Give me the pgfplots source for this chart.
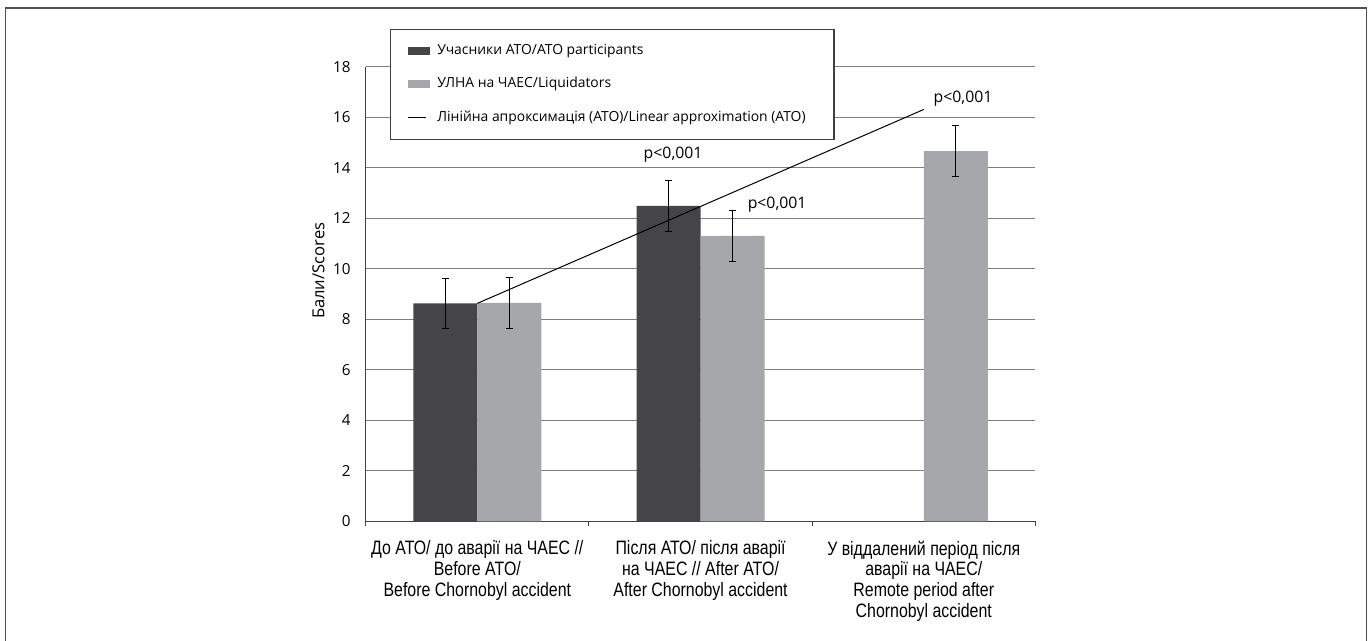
\documentclass[border=0pt]{standalone}
\usepackage{pgfplots}
\pgfplotsset{compat=1.18}
\usepackage{fontspec}
\setmainfont{Open Sans}
\newfontfamily\narrowfont[FakeStretch=0.82]{Liberation Sans}
\definecolor{darkbar}{RGB}{69,69,71}
\definecolor{lightbar}{RGB}{166,167,170}
\definecolor{gridcol}{RGB}{125,125,125}
\definecolor{axcol}{RGB}{64,64,64}
\definecolor{framecol}{RGB}{80,80,80}
\begin{document}
\begin{tikzpicture}
\useasboundingbox (0,0) rectangle (684.5pt,320.5pt);
\draw[framecol, line width=0.9pt] (2.75pt,-3pt) -- (2.75pt,316.3pt) -- (683.2pt,316.3pt) -- (683.2pt,-3pt);
\begin{axis}[
  at={(182.85pt,59.85pt)}, anchor=south west,
  scale only axis, width=334.85pt, height=227.25pt,
  xmin=-0.5, xmax=2.5, ymin=0, ymax=18,
  axis x line*=bottom, axis y line*=left,
  axis line style={draw=axcol, line width=0.5pt, -},
  tick align=outside,
  xtick={0,1,2}, major tick length=0pt,
  minor xtick={-0.5,0.5,1.5,2.5}, minor tick length=2.5pt,
  minor tick style={draw=axcol, line width=0.5pt},
  ytick={0,2,...,18},
  ymajorgrids, grid style={draw=gridcol, line width=0.5pt},
  /pgf/number format/assume math mode=true,
  yticklabel style={font=\fontsize{7.6}{8}\selectfont, inner sep=0pt, anchor=east, xshift=-7.35pt},
  xticklabels={{До АТО/ до аварії на ЧАЕС //\\Before ATO/\\Before Chornobyl accident},
               {Після АТО/ після аварії\\на ЧАЕС // After ATO/\\After Chornobyl accident},
               {У віддалений період після\\аварії на ЧАЕС/\\Remote period after\\Chornobyl accident}},
  xticklabel style={align=center, font=\narrowfont\fontsize{9.7}{10.35}\selectfont, inner sep=0pt, anchor=north, yshift=-9.6pt},
  ylabel={Бали/Scores},
  every axis y label/.style={at={(rel axis cs:-0.0705,0.551)}, rotate=90, anchor=center, font=\fontsize{8.3}{9}\selectfont},
  legend style={at={(0.0632,1.0495)}, anchor=north west, draw=none, fill=none,
    inner sep=0pt, outer sep=0pt, row sep=10.25pt, column sep=3.5pt,
    font=\fontsize{6.95}{7.5}\selectfont,
    nodes={inner sep=0pt, text height=5pt, text depth=1.5pt}},
  legend cell align=left,
  clip=false,
]
\draw[draw=axcol, line width=0.6pt, fill=white] (rel axis cs:0.0367,1.0825) rectangle (rel axis cs:0.6993,0.8405);
\addplot[ybar, bar width=0.2867, bar shift=0pt, fill=darkbar, draw=none,
  legend image code/.code={\fill[darkbar] (0pt,-2pt) rectangle (11pt,2pt);},
  error bars/.cd, y dir=both, y explicit,
  error bar style={black, line width=0.5pt},
  error mark options={rotate=90, black, line width=0.5pt, mark size=1.7pt}]
  coordinates {(-0.1434,8.63) +- (0,1.0) (0.8566,12.49) +- (0,1.0)};
\addlegendentry{Учасники АТО/АТО participants}
\addplot[ybar, bar width=0.2867, bar shift=0pt, fill=lightbar, draw=none,
  legend image code/.code={\fill[lightbar] (0pt,-2pt) rectangle (11pt,2pt);},
  error bars/.cd, y dir=both, y explicit,
  error bar style={black, line width=0.5pt},
  error mark options={rotate=90, black, line width=0.5pt, mark size=1.7pt}]
  coordinates {(0.1434,8.65) +- (0,1.0) (1.1434,11.30) +- (0,1.0) (2.1434,14.66) +- (0,1.0)};
\addlegendentry{УЛНА на ЧАЕС/Liquidators}
\addplot[black, line width=0.5pt, mark=none,
  legend image code/.code={\draw[black, line width=0.4pt] (0pt,0pt) -- (8.8pt,0pt);}]
  coordinates {(0,8.63) (2,16.31)};
\addlegendentry{Лінійна апроксимація (АТО)/Linear approximation (ATO)}
\node[font=\fontsize{7.9}{9}\selectfont, inner sep=0pt] at (axis cs:0.877,14.51) {p<0,001};
\node[font=\fontsize{7.9}{9}\selectfont, inner sep=0pt] at (axis cs:1.343,12.53) {p<0,001};
\node[font=\fontsize{7.9}{9}\selectfont, inner sep=0pt] at (axis cs:2.176,16.75) {p<0,001};
\end{axis}
\end{tikzpicture}
\end{document}
